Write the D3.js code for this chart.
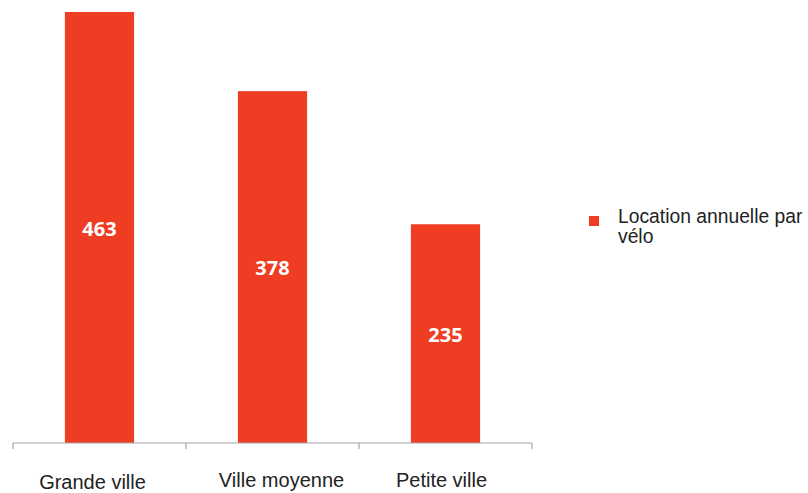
<!DOCTYPE html>
<html><head><meta charset="utf-8">
<script src="https://cdn.jsdelivr.net/npm/d3@7"></script>
<style>html,body{margin:0;padding:0;background:#fff;}</style>
</head><body>
<svg id="c" width="808" height="493"></svg>
<script>
const categories = ["Grande ville", "Ville moyenne", "Petite ville"];
const values = [463, 378, 235];
const seriesName = "Location annuelle par vélo";

const svg = d3.select("#c");
const x = d3.scaleBand().domain(categories).range([13, 532]).paddingInner(0).paddingOuter(0);
const y = d3.scaleLinear().domain([0, 463]).range([443, 12]);
const color = "#ee3d23";
const barW = x.bandwidth() * 0.4;

svg.selectAll("rect.bar").data(values).enter().append("rect")
  .attr("class", "bar")
  .attr("x", (d, i) => x(categories[i]) + (x.bandwidth() - barW) / 2)
  .attr("y", d => y(d))
  .attr("width", barW)
  .attr("height", d => y(0) - y(d))
  .attr("fill", color);

svg.selectAll("text.val").data(values).enter().append("text")
  .attr("class", "val")
  .attr("x", (d, i) => x(categories[i]) + x.bandwidth() / 2)
  .attr("y", d => (y(d) + y(0)) / 2 + 1)
  .attr("dy", "0.35em")
  .attr("text-anchor", "middle")
  .attr("fill", "#fff")
  .attr("font-family", "Open Sans, DejaVu Sans, sans-serif")
  .attr("font-weight", "bold")
  .attr("font-size", "20px")
  .text(d => d);

// axis
const axisG = svg.append("g");
axisG.append("line").attr("x1", 13).attr("x2", 532).attr("y1", y(0)).attr("y2", y(0))
  .attr("stroke", "#a6a6a6").attr("stroke-width", 1.2);
const edges = categories.map(c => x(c)).concat([x(categories[categories.length - 1]) + x.bandwidth()]);
axisG.selectAll("line.tick").data(edges).enter().append("line")
  .attr("x1", d => d).attr("x2", d => d).attr("y1", y(0)).attr("y2", y(0) + 6)
  .attr("stroke", "#a6a6a6").attr("stroke-width", 1.2);

const labelOffsets = [-7, 9, -4];
axisG.selectAll("text.cat").data(categories).enter().append("text")
  .attr("class", "cat")
  .attr("x", (d, i) => x(d) + x.bandwidth() / 2 + labelOffsets[i])
  .attr("y", (d, i) => i === 0 ? 489 : 487)
  .attr("text-anchor", "middle")
  .attr("fill", "#222")
  .attr("font-family", "Liberation Sans, Arial, sans-serif")
  .attr("font-size", "20px")
  .text(d => d);

// legend
const lg = svg.append("g");
lg.append("rect").attr("x", 589).attr("y", 216).attr("width", 10).attr("height", 10).attr("fill", color);
const words = seriesName.split(" ");
const line1 = words.slice(0, 3).join(" ");
const line2 = words.slice(3).join(" ");
const lt = lg.append("text")
  .attr("fill", "#222")
  .attr("font-family", "Liberation Sans, Arial, sans-serif")
  .attr("font-size", "19.3px");
lt.append("tspan").attr("x", 618).attr("y", 223).text(line1);
lt.append("tspan").attr("x", 618).attr("y", 243).text(line2);
</script>
</body></html>
